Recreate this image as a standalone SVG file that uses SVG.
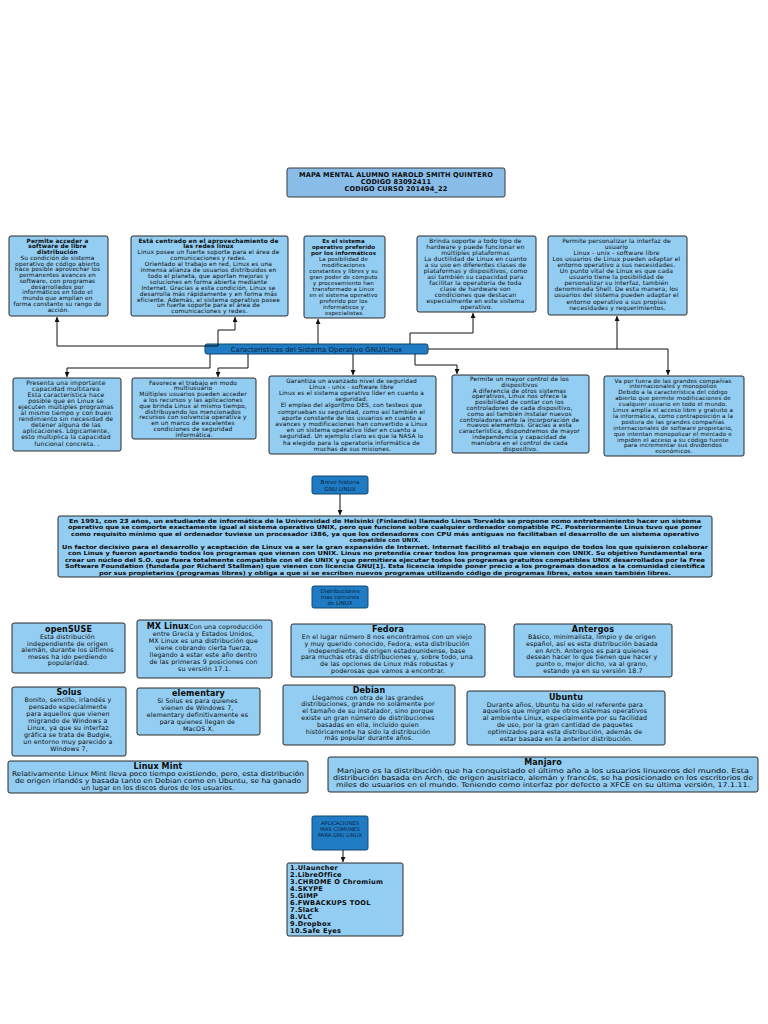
<svg xmlns="http://www.w3.org/2000/svg" width="768" height="1024" viewBox="0 0 768 1024">
<style>
.bg{fill:#ffffff}
.box{fill:#93cdf1;stroke:#2a2a2a;stroke-width:1}
.title{fill:#89bde8;stroke:#3a3a3a;stroke-width:1}
.dark{fill:#1f7cc4;stroke:#12466f;stroke-width:1}
.t{font-family:"DejaVu Sans","Liberation Sans",sans-serif;fill:#0a0a0a;text-anchor:middle;letter-spacing:0.15px}
.s{font-family:"DejaVu Sans","Liberation Sans",sans-serif;fill:#0a0a0a;text-anchor:start}
.lab{font-family:"DejaVu Sans","Liberation Sans",sans-serif;fill:#0a2240;text-anchor:middle}
.b{font-weight:bold}
.conn path{stroke:#111;stroke-width:1;fill:none;marker-end:url(#ah)}
</style>
<defs>
<marker id="ah" markerWidth="5" markerHeight="5" refX="5" refY="2.5" orient="auto" markerUnits="userSpaceOnUse">
<path d="M0,0 L5,2.5 L0,5 z" fill="#111"/>
</marker>
</defs>
<rect class="bg" x="0" y="0" width="768" height="1024"/>

<g id="title">
<rect class="title" x="287" y="168" width="218" height="29" rx="2"/>
<text class="t b" font-size="6.6" x="396" y="177">MAPA MENTAL  ALUMNO HAROLD SMITH QUINTERO</text>
<text class="t b" font-size="6.6" x="396" y="184">CODIGO 83092411</text>
<text class="t b" font-size="6.6" x="396" y="191">CODIGO CURSO 201494_22</text>
</g>

<g id="t1">
<rect class="box" x="9" y="236" width="99" height="80" rx="2"/>
<text class="t" font-size="5.8" x="58.5" y="242.5">
<tspan x="58.5" dy="0" font-weight="bold">Permite acceder a</tspan>
<tspan x="58.5" dy="5.75" font-weight="bold">software de libre</tspan>
<tspan x="58.5" dy="5.75" font-weight="bold">distribución</tspan>
<tspan x="58.5" dy="5.75">Su condición de sistema</tspan>
<tspan x="58.5" dy="5.75">operativo de código abierto</tspan>
<tspan x="58.5" dy="5.75">hace posible aprovechar los</tspan>
<tspan x="58.5" dy="5.75">permanentes avances en</tspan>
<tspan x="58.5" dy="5.75">software, con programas</tspan>
<tspan x="58.5" dy="5.75">desarrollados por</tspan>
<tspan x="58.5" dy="5.75">informáticos en todo el</tspan>
<tspan x="58.5" dy="5.75">mundo que amplían en</tspan>
<tspan x="58.5" dy="5.75">forma constante su rango de</tspan>
<tspan x="58.5" dy="5.75">acción.</tspan>
</text>
</g>

<g id="t2">
<rect class="box" x="131" y="236" width="157" height="80" rx="2" stroke="#111"/>
<text class="t" font-size="5.9" x="209.5" y="242.5">
<tspan x="209.5" dy="0" font-weight="bold">Está centrado en el aprovechamiento de</tspan>
<tspan x="209.5" dy="5.9" font-weight="bold">las redes linux</tspan>
<tspan x="209.5" dy="5.9">Linux posee un fuerte soporte para el área de</tspan>
<tspan x="209.5" dy="5.9">comunicaciones y redes.</tspan>
<tspan x="209.5" dy="5.9">Orientado al trabajo en red, Linux es una</tspan>
<tspan x="209.5" dy="5.9">inmensa alianza de usuarios distribuidos en</tspan>
<tspan x="209.5" dy="5.9">todo el planeta, que aportan mejoras y</tspan>
<tspan x="209.5" dy="5.9">soluciones  en forma abierta mediante</tspan>
<tspan x="209.5" dy="5.9">Internet. Gracias a esta condición, Linux se</tspan>
<tspan x="209.5" dy="5.9">desarrolla más rápidamente y en forma más</tspan>
<tspan x="209.5" dy="5.9">eficiente. Además, el sistema operativo posee</tspan>
<tspan x="209.5" dy="5.9">un fuerte soporte para el área de</tspan>
<tspan x="209.5" dy="5.9">comunicaciones y redes.</tspan>
</text>
</g>

<g id="t3">
<rect class="box" x="304" y="236" width="81" height="82" rx="2"/>
<text class="t" font-size="5.5" x="344.5" y="242.5">
<tspan x="344.5" dy="0" font-weight="bold">Es el sistema</tspan>
<tspan x="344.5" dy="6" font-weight="bold">operativo preferido</tspan>
<tspan x="344.5" dy="6" font-weight="bold">por los informáticos</tspan>
<tspan x="344.5" dy="6">La posibilidad de</tspan>
<tspan x="344.5" dy="6">modificaciones</tspan>
<tspan x="344.5" dy="6">constantes y libres y su</tspan>
<tspan x="344.5" dy="6">gran poder de cómputo</tspan>
<tspan x="344.5" dy="6">y procesamiento han</tspan>
<tspan x="344.5" dy="6">transformado a Linux</tspan>
<tspan x="344.5" dy="6">en el sistema operativo</tspan>
<tspan x="344.5" dy="6">preferido por los</tspan>
<tspan x="344.5" dy="6">informáticos y</tspan>
<tspan x="344.5" dy="6">especialistas.</tspan>
</text>
</g>

<g id="t4">
<rect class="box" x="417" y="236" width="119" height="76" rx="2"/>
<text class="t" font-size="6" x="476.5" y="242.5">
<tspan x="476.5" dy="0">Brinda soporte a todo tipo de</tspan>
<tspan x="476.5" dy="6">hardware y puede funcionar en</tspan>
<tspan x="476.5" dy="6">múltiples plataformas</tspan>
<tspan x="476.5" dy="6">La ductilidad de Linux en cuanto</tspan>
<tspan x="476.5" dy="6">a su uso en diferentes clases de</tspan>
<tspan x="476.5" dy="6">plataformas y dispositivos, como</tspan>
<tspan x="476.5" dy="6">así también su capacidad para</tspan>
<tspan x="476.5" dy="6">facilitar la operatoria de toda</tspan>
<tspan x="476.5" dy="6">clase de hardware son</tspan>
<tspan x="476.5" dy="6">condiciones que destacan</tspan>
<tspan x="476.5" dy="6">especialmente en este sistema</tspan>
<tspan x="476.5" dy="6">operativo.</tspan>
</text>
</g>

<g id="t5">
<rect class="box" x="548" y="236" width="139" height="79" rx="2"/>
<text class="t" font-size="6" x="617.5" y="242.5">
<tspan x="617.5" dy="0">Permite personalizar la interfaz de</tspan>
<tspan x="617.5" dy="6.1">usuario</tspan>
<tspan x="617.5" dy="6.1">Linux - unix - software libre</tspan>
<tspan x="617.5" dy="6.1">Los usuarios de Linux pueden adaptar el</tspan>
<tspan x="617.5" dy="6.1">entorno operativo a sus necesidades.</tspan>
<tspan x="617.5" dy="6.1">Un punto vital de Linux es que cada</tspan>
<tspan x="617.5" dy="6.1">usuario tiene la posibilidad de</tspan>
<tspan x="617.5" dy="6.1">personalizar su interfaz, también</tspan>
<tspan x="617.5" dy="6.1">denominada Shell. De esta manera, los</tspan>
<tspan x="617.5" dy="6.1">usuarios del sistema pueden adaptar el</tspan>
<tspan x="617.5" dy="6.1">entorno operativo a sus propias</tspan>
<tspan x="617.5" dy="6.1">necesidades y requerimientos.</tspan>
</text>
</g>

<g id="caracteristicas">
<rect class="dark" x="205" y="344" width="223" height="10" rx="2"/>
<text class="lab" font-size="7" x="316.5" y="351.6">Características del Sistema Operativo GNU/Linux</text>
</g>

<g id="b1">
<rect class="box" x="13" y="378" width="108" height="73" rx="2"/>
<text class="t" font-size="6.1" x="67" y="384.5">
<tspan x="67" dy="0">Presenta una importante</tspan>
<tspan x="67" dy="6.1">capacidad multitarea</tspan>
<tspan x="67" dy="6.1">Esta característica hace</tspan>
<tspan x="67" dy="6.1">posible que en Linux se</tspan>
<tspan x="67" dy="6.1">ejecuten múltiples programas</tspan>
<tspan x="67" dy="6.1">al mismo tiempo y con buen</tspan>
<tspan x="67" dy="6.1">rendimiento sin necesidad de</tspan>
<tspan x="67" dy="6.1">detener alguna de las</tspan>
<tspan x="67" dy="6.1">aplicaciones. Lógicamente,</tspan>
<tspan x="67" dy="6.1">esto multiplica la capacidad</tspan>
<tspan x="67" dy="6.1">funcional concreta.   .</tspan>
</text>
</g>

<g id="b2">
<rect class="box" x="132" y="378" width="124" height="61" rx="2"/>
<text class="t" font-size="5.9" x="194" y="384.5">
<tspan x="194" dy="0">Favorece el trabajo en modo</tspan>
<tspan x="194" dy="5.8">multiusuario</tspan>
<tspan x="194" dy="5.8">Múltiples usuarios pueden acceder</tspan>
<tspan x="194" dy="5.8">a los recursos y las aplicaciones</tspan>
<tspan x="194" dy="5.8">que brinda Linux al mismo tiempo,</tspan>
<tspan x="194" dy="5.8">distribuyendo los mencionados</tspan>
<tspan x="194" dy="5.8">recursos con solvencia operativa y</tspan>
<tspan x="194" dy="5.8">en un marco de excelentes</tspan>
<tspan x="194" dy="5.8">condiciones de seguridad</tspan>
<tspan x="194" dy="5.8">informática.</tspan>
</text>
</g>

<g id="b3">
<rect class="box" x="269" y="376" width="167" height="78" rx="2"/>
<text class="t" font-size="5.9" x="352.5" y="382.5">
<tspan x="352.5" dy="0">Garantiza un avanzado nivel de seguridad</tspan>
<tspan x="352.5" dy="6.2">Linux - unix - software libre</tspan>
<tspan x="352.5" dy="6.2">Linux es el sistema operativo líder en cuanto a</tspan>
<tspan x="352.5" dy="6.2">seguridad.</tspan>
<tspan x="352.5" dy="6.2">El empleo del algoritmo DES, con testeos que</tspan>
<tspan x="352.5" dy="6.2">comprueban su seguridad, como así también el</tspan>
<tspan x="352.5" dy="6.2">aporte constante de los usuarios en cuanto a</tspan>
<tspan x="352.5" dy="6.2">avances y modificaciones han convertido a Linux</tspan>
<tspan x="352.5" dy="6.2">en un sistema operativo líder en cuanto a</tspan>
<tspan x="352.5" dy="6.2">seguridad. Un ejemplo claro es que la NASA lo</tspan>
<tspan x="352.5" dy="6.2">ha elegido para la operatoria informática de</tspan>
<tspan x="352.5" dy="6.2">muchas de sus misiones.</tspan>
</text>
</g>

<g id="b4">
<rect class="box" x="452" y="375" width="137" height="78" rx="2"/>
<text class="t" font-size="5.9" x="520.5" y="381">
<tspan x="520.5" dy="0">Permite un mayor control de los</tspan>
<tspan x="520.5" dy="5.8">dispositivos</tspan>
<tspan x="520.5" dy="5.8">A diferencia de otros sistemas</tspan>
<tspan x="520.5" dy="5.8">operativos, Linux nos ofrece la</tspan>
<tspan x="520.5" dy="5.8">posibilidad de contar con los</tspan>
<tspan x="520.5" dy="5.8">controladores de cada dispositivo,</tspan>
<tspan x="520.5" dy="5.8">como así también instalar nuevos</tspan>
<tspan x="520.5" dy="5.8">controladores ante la incorporación de</tspan>
<tspan x="520.5" dy="5.8">nuevos elementos. Gracias a esta</tspan>
<tspan x="520.5" dy="5.8">característica, dispondremos de mayor</tspan>
<tspan x="520.5" dy="5.8">independencia y capacidad de</tspan>
<tspan x="520.5" dy="5.8">maniobra en el control de cada</tspan>
<tspan x="520.5" dy="5.8">dispositivo.</tspan>
</text>
</g>

<g id="b5">
<rect class="box" x="604" y="376" width="140" height="80" rx="2"/>
<text class="t" font-size="5.7" x="674" y="382.5">
<tspan x="674" dy="0">Va por fuera de las grandes compañías</tspan>
<tspan x="674" dy="5.9">internacionales y monopolios</tspan>
<tspan x="674" dy="5.9">Debido a la característica del código</tspan>
<tspan x="674" dy="5.9">abierto que permite modificaciones de</tspan>
<tspan x="674" dy="5.9">cualquier usuario en todo el mundo.</tspan>
<tspan x="674" dy="5.9">Linux amplía el acceso libre y gratuito a</tspan>
<tspan x="674" dy="5.9">la informática, como contraposición a la</tspan>
<tspan x="674" dy="5.9">postura de las grandes compañías</tspan>
<tspan x="674" dy="5.9">internacionales de software propietario,</tspan>
<tspan x="674" dy="5.9">que intentan monopolizar el mercado e</tspan>
<tspan x="674" dy="5.9">impiden el acceso a su código fuente</tspan>
<tspan x="674" dy="5.9">para incrementar sus dividendos</tspan>
<tspan x="674" dy="5.9">económicos.</tspan>
</text>
</g>

<g id="breve">
<rect class="dark" x="312" y="476" width="56" height="18" rx="2"/>
<text class="lab" font-size="5.6" x="340" y="483.5">Breve historia</text>
<text class="lab" font-size="5.6" x="340" y="490.5">GNU LINUX</text>
</g>

<g id="historia">
<rect class="box" x="58" y="516" width="654" height="61" rx="2"/>
<text class="s b" font-size="5.6" x="69" y="522.8" textLength="632" lengthAdjust="spacingAndGlyphs">En 1991, con 23 años, un estudiante de informática de la Universidad de Helsinki (Finlandia) llamado Linus Torvalds se propone como entretenimiento hacer un sistema</text>
<text class="s b" font-size="5.6" x="68" y="529.3" textLength="634" lengthAdjust="spacingAndGlyphs">operativo que se comporte exactamente igual al sistema operativo UNIX, pero que funcione sobre cualquier ordenador compatible PC. Posteriormente Linus tuvo que poner</text>
<text class="s b" font-size="5.6" x="71" y="535.8" textLength="628" lengthAdjust="spacingAndGlyphs">como requisito mínimo que el ordenador tuviese un procesador i386, ya que los ordenadores con CPU más antiguas no facilitaban el desarrollo de un sistema operativo</text>
<text class="t b" font-size="5.6" x="385" y="542.3" letter-spacing="0">compatible con UNIX.</text>
<text class="s b" font-size="5.6" x="62" y="548.8" textLength="646" lengthAdjust="spacingAndGlyphs">Un factor decisivo para el desarrollo y aceptación de Linux va a ser la gran expansión de Internet. Internet facilitó el trabajo en equipo de todos los que quisieron colaborar</text>
<text class="s b" font-size="5.6" x="68" y="555.3" textLength="634" lengthAdjust="spacingAndGlyphs">con Linus y fueron aportando todos los programas que vienen con UNIX. Linus no pretendía crear todos los programas que vienen con UNIX. Su objetivo fundamental era</text>
<text class="s b" font-size="5.6" x="65" y="561.8" textLength="640" lengthAdjust="spacingAndGlyphs">crear un núcleo del S.O. que fuera totalmente compatible con el de UNIX y que permitiera ejecutar todos los programas gratuitos compatibles UNIX desarrollados por la Free</text>
<text class="s b" font-size="5.6" x="65" y="568.3" textLength="640" lengthAdjust="spacingAndGlyphs">Software Foundation (fundada por Richard Stallman) que vienen con licencia GNU[1]. Esta licencia impide poner precio a los programas donados a la comunidad científica</text>
<text class="s b" font-size="5.6" x="99" y="574.8" textLength="572" lengthAdjust="spacingAndGlyphs">por sus propietarios (programas libres) y obliga a que si se escriben nuevos programas utilizando código de programas libres, estos sean también libres.</text>
</g>

<g id="distribuciones">
<rect class="dark" x="312" y="586" width="56" height="22" rx="2"/>
<text class="lab" font-size="5.5" x="340" y="592.5">Distribuciones</text>
<text class="lab" font-size="5.5" x="340" y="598.5">más comunes</text>
<text class="lab" font-size="5.5" x="340" y="604.5">de LINUX</text>
</g>

<g id="opensuse">
<rect class="box" x="12" y="623" width="113" height="50" rx="2"/>
<text class="t b" font-size="8" x="68.5" y="632">openSUSE</text>
<text class="t" font-size="6.3" x="68.5" y="639">
<tspan x="68.5" dy="0">Esta distribución</tspan>
<tspan x="68.5" dy="6.6">independiente de origen</tspan>
<tspan x="68.5" dy="6.6">alemán, durante los últimos</tspan>
<tspan x="68.5" dy="6.6">meses ha ido perdiendo</tspan>
<tspan x="68.5" dy="6.6">popularidad.</tspan>
</text>
</g>

<g id="mxlinux">
<rect class="box" x="137" y="620" width="135" height="58" rx="2"/>
<text class="t" font-size="6.3" x="204.5" y="628.5"><tspan font-weight="bold" font-size="8">MX Linux</tspan>Con una coproducción</text>
<text class="t" font-size="6.3" x="204.5" y="636">
<tspan x="204.5" dy="0">entre Grecia y Estados Unidos,</tspan>
<tspan x="204.5" dy="7">MX Linux es una  distribución que</tspan>
<tspan x="204.5" dy="7">viene cobrando cierta fuerza,</tspan>
<tspan x="204.5" dy="7">llegando a estar este año  dentro</tspan>
<tspan x="204.5" dy="7">de las primeras 9 posiciones con</tspan>
<tspan x="204.5" dy="7">su versión 17.1.</tspan>
</text>
</g>

<g id="fedora">
<rect class="box" x="291" y="624" width="194" height="53" rx="2"/>
<text class="t b" font-size="8" x="388" y="632">Fedora</text>
<text class="t" font-size="6.3" x="388" y="639">
<tspan x="388" dy="0">En el lugar número 8 nos encontramos con un viejo</tspan>
<tspan x="388" dy="6.8">y muy querido  conocido, Fedora, esta distribución</tspan>
<tspan x="388" dy="6.8">independiente, de origen  estadounidense, base</tspan>
<tspan x="388" dy="6.8">para muchas otras distribuciones y, sobre todo, una</tspan>
<tspan x="388" dy="6.8">de las opciones de Linux más robustas y</tspan>
<tspan x="388" dy="6.8">poderosas que vamos a  encontrar.</tspan>
</text>
</g>

<g id="antergos">
<rect class="box" x="514" y="624" width="158" height="53" rx="2"/>
<text class="t b" font-size="8" x="593" y="632">Antergos</text>
<text class="t" font-size="6.3" x="593" y="639">
<tspan x="593" dy="0">Básico, minimalista, limpio y de origen</tspan>
<tspan x="593" dy="6.8">español, así es esta  distribución basada</tspan>
<tspan x="593" dy="6.8">en Arch. Antergos es para quienes</tspan>
<tspan x="593" dy="6.8">desean hacer lo  que tienen que hacer y</tspan>
<tspan x="593" dy="6.8">punto o, mejor dicho, va al grano,</tspan>
<tspan x="593" dy="6.8">estando ya en  su versión 18.7</tspan>
</text>
</g>

<g id="solus">
<rect class="box" x="12" y="687" width="114" height="69" rx="2"/>
<text class="t b" font-size="8" x="69" y="695">Solus</text>
<text class="t" font-size="6.3" x="69" y="702">
<tspan x="69" dy="0">Bonito, sencillo, irlandés y</tspan>
<tspan x="69" dy="7">pensado especialmente</tspan>
<tspan x="69" dy="7">para aquellos que  vienen</tspan>
<tspan x="69" dy="7">migrando de Windows a</tspan>
<tspan x="69" dy="7">Linux, ya que su interfaz</tspan>
<tspan x="69" dy="7">gráfica se trata  de Budgie,</tspan>
<tspan x="69" dy="7">un entorno muy parecido a</tspan>
<tspan x="69" dy="7">Windows 7,</tspan>
</text>
</g>

<g id="elementary">
<rect class="box" x="137" y="688" width="123" height="47" rx="2"/>
<text class="t b" font-size="8" x="198.5" y="696">elementary</text>
<text class="t" font-size="6.3" x="198.5" y="703">
<tspan x="198.5" dy="0">Si Solus es para quienes</tspan>
<tspan x="198.5" dy="7">vienen de Windows 7,</tspan>
<tspan x="198.5" dy="7">elementary definitivamente es</tspan>
<tspan x="198.5" dy="7">para quienes llegan de</tspan>
<tspan x="198.5" dy="7">MacOS X.</tspan>
</text>
</g>

<g id="debian">
<rect class="box" x="283" y="685" width="172" height="60" rx="2"/>
<text class="t b" font-size="8" x="369" y="692.5">Debian</text>
<text class="t" font-size="6.3" x="369" y="699.5">
<tspan x="369" dy="0">Llegamos con otra de las grandes</tspan>
<tspan x="369" dy="6.8">distribuciones, grande no solamente por</tspan>
<tspan x="369" dy="6.8">el tamaño de su instalador, sino porque</tspan>
<tspan x="369" dy="6.8">existe un gran número de  distribuciones</tspan>
<tspan x="369" dy="6.8">basadas en ella, incluido quien</tspan>
<tspan x="369" dy="6.8">históricamente ha sido la  distribución</tspan>
<tspan x="369" dy="6.8">más popular durante años.</tspan>
</text>
</g>

<g id="ubuntu">
<rect class="box" x="467" y="691" width="198" height="54" rx="2"/>
<text class="t b" font-size="8" x="566" y="699.5">Ubuntu</text>
<text class="t" font-size="6.3" x="566" y="706.5">
<tspan x="566" dy="0">Durante años, Ubuntu ha sido el referente para</tspan>
<tspan x="566" dy="6.8">aquellos que migran de  otros sistemas operativos</tspan>
<tspan x="566" dy="6.8">al ambiente Linux, especialmente por su  facilidad</tspan>
<tspan x="566" dy="6.8">de uso, por la gran cantidad de paquetes</tspan>
<tspan x="566" dy="6.8">optimizados para esta  distribución, además de</tspan>
<tspan x="566" dy="6.8">estar basada en la anterior distribución.</tspan>
</text>
</g>

<g id="linuxmint">
<rect class="box" x="8" y="761" width="300" height="32" rx="2"/>
<text class="t b" font-size="8" x="158" y="768.5">Linux Mint</text>
<text class="s" font-size="6.6" x="12" y="775.5" textLength="292" lengthAdjust="spacingAndGlyphs">Relativamente Linux Mint lleva poco tiempo existiendo, pero, esta  distribución</text>
<text class="s" font-size="6.6" x="15" y="782.5" textLength="286" lengthAdjust="spacingAndGlyphs">de origen irlandés y basada tanto en Debian como en Ubuntu,  se ha ganado</text>
<text class="t" font-size="6.6" x="158" y="789.5">un lugar en los discos duros de los usuarios.</text>
</g>

<g id="manjaro">
<rect class="box" x="328" y="757" width="430" height="35" rx="2"/>
<text class="t b" font-size="8" x="543" y="765">Manjaro</text>
<text class="s" font-size="6.6" x="337" y="772.5" textLength="412" lengthAdjust="spacingAndGlyphs">Manjaro es la distribución que ha conquistado el último año a los  usuarios linuxeros del mundo. Esta</text>
<text class="s" font-size="6.6" x="333" y="779.5" textLength="420" lengthAdjust="spacingAndGlyphs">distribución basada en Arch, de  origen austriaco, alemán y francés, se ha posicionado en los escritorios  de</text>
<text class="s" font-size="6.6" x="336" y="786.5" textLength="414" lengthAdjust="spacingAndGlyphs">miles de usuarios en el mundo. Teniendo como interfaz por defecto a  XFCE en su última versión, 17.1.11.</text>
</g>

<g id="aplicaciones">
<rect class="dark" x="312" y="816" width="56" height="34" rx="2"/>
<text class="lab" font-size="5.2" x="340" y="825">APLICACIONES</text>
<text class="lab" font-size="5.2" x="340" y="831">MAS COMUNES</text>
<text class="lab" font-size="5.2" x="340" y="837">PARA GNU LINUX</text>
</g>

<g id="lista">
<rect class="box" x="287" y="863" width="116" height="73" rx="2"/>
<text class="s b" font-size="6.6" x="290" y="869.5" letter-spacing="0.3">
<tspan x="290" dy="0">1.Ulauncher</tspan>
<tspan x="290" dy="7">2.LibreOffice</tspan>
<tspan x="290" dy="7">3.CHROME O Chromium</tspan>
<tspan x="290" dy="7">4.SKYPE</tspan>
<tspan x="290" dy="7">5.GIMP</tspan>
<tspan x="290" dy="7">6.FWBACKUPS TOOL</tspan>
<tspan x="290" dy="7">7.Slack</tspan>
<tspan x="290" dy="7">8.VLC</tspan>
<tspan x="290" dy="7">9.Dropbox</tspan>
<tspan x="290" dy="7">10.Safe Eyes</tspan>
</text>
</g>

<g id="connectors" class="conn">
<path d="M218,344 V346 H57 V317"/>
<path d="M218,344 V330 H235 V317"/>
<path d="M318,344 V319"/>
<path d="M410,344 V333 H473 V313"/>
<path d="M428,349 H617 V316"/>
<path d="M210,354 V368 H67 V377"/>
<path d="M248,354 V368 H218 V377"/>
<path d="M353,354 V375"/>
<path d="M415,354 V365 H457 V374"/>
<path d="M617,349 H668 V375"/>
<path d="M340,494 V515"/>
<path d="M343,850 V862"/>
</g>
</svg>
